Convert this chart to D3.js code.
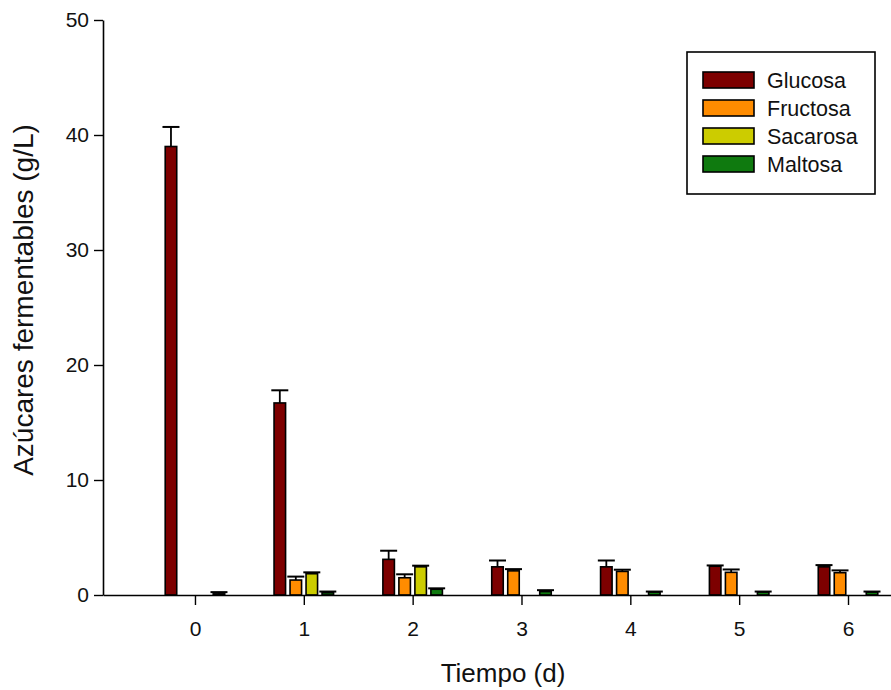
<!DOCTYPE html>
<html>
<head>
<meta charset="utf-8">
<script src="https://cdn.jsdelivr.net/npm/d3@7"></script>
<style>
  html, body { margin: 0; padding: 0; background: #ffffff; }
  svg { display: block; font-family: "Liberation Sans", Arial, sans-serif; }
</style>
</head>
<body>
<svg id="chart" width="891" height="690"></svg>
<script>
const times = [0, 1, 2, 3, 4, 5, 6];
const seriesNames = ["Glucosa", "Fructosa", "Sacarosa", "Maltosa"];
const seriesColors = ["#7d0000", "#ff8c00", "#cccc00", "#0f7a0f"];
const glucosa = [39.0, 16.7, 3.1, 2.45, 2.45, 2.5, 2.45];
const glucosaErr = [1.7, 1.1, 0.75, 0.55, 0.55, 0.07, 0.15];
const fructosa = [0, 1.3, 1.5, 2.1, 2.05, 1.97, 1.94];
const fructosaErr = [0, 0.3, 0.3, 0.15, 0.15, 0.25, 0.2];
const sacarosa = [0, 1.85, 2.45, 0, 0, 0, 0];
const sacarosaErr = [0, 0.12, 0.1, 0, 0, 0, 0];
const maltosa = [0.1, 0.2, 0.5, 0.3, 0.25, 0.25, 0.25];
const maltosaErr = [0.15, 0.1, 0.08, 0.12, 0.05, 0.05, 0.05];
const yTicks = [0, 10, 20, 30, 40, 50];
const xLabel = "Tiempo (d)";
const yLabel = "Azúcares fermentables (g/L)";

const values = [glucosa, fructosa, sacarosa, maltosa];
const errors = [glucosaErr, fructosaErr, sacarosaErr, maltosaErr];

const svg = d3.select("#chart");
const x = d3.scaleLinear().domain([-0.845, 6.395]).range([103, 891]);
const y = d3.scaleLinear().domain([0, 50]).range([595, 20]);
const inner = d3.scaleBand().domain(seriesNames).range([-32, 32]).paddingInner(0.28).paddingOuter(0.14);

const data = [];
seriesNames.forEach((s, si) => {
  times.forEach((t, ti) => {
    data.push({ s, si, t, v: values[si][ti], e: errors[si][ti] });
  });
});
const nonzero = data.filter(d => d.v > 0);

const g = svg.append("g");
const eb = g.selectAll(".err").data(nonzero.filter(d => d.e > 0)).enter().append("g");
eb.append("line")
  .attr("x1", d => x(d.t) + inner(d.s) + inner.bandwidth() / 2)
  .attr("x2", d => x(d.t) + inner(d.s) + inner.bandwidth() / 2)
  .attr("y1", d => y(d.v))
  .attr("y2", d => y(d.v + d.e))
  .attr("stroke", "#000").attr("stroke-width", 1.8);
eb.append("line")
  .attr("x1", d => x(d.t) + inner(d.s) + inner.bandwidth() / 2 - 8.5)
  .attr("x2", d => x(d.t) + inner(d.s) + inner.bandwidth() / 2 + 8.5)
  .attr("y1", d => y(d.v + d.e))
  .attr("y2", d => y(d.v + d.e))
  .attr("stroke", "#000").attr("stroke-width", 2);

g.selectAll(".bar").data(nonzero).enter().append("rect")
  .attr("x", d => x(d.t) + inner(d.s))
  .attr("width", inner.bandwidth())
  .attr("y", d => y(d.v))
  .attr("height", d => y(0) - y(d.v))
  .attr("fill", d => seriesColors[d.si])
  .attr("stroke", "#000").attr("stroke-width", 1.6);

const yAxis = svg.append("g").attr("transform", "translate(103,0)")
  .call(d3.axisLeft(y).tickValues(yTicks).tickSize(9).tickPadding(5).tickSizeOuter(0));
const xAxis = svg.append("g").attr("transform", "translate(0,595)")
  .call(d3.axisBottom(x).tickValues(times).tickFormat(d3.format("d")).tickSize(10).tickPadding(16).tickSizeOuter(0));
[yAxis, xAxis].forEach(a => {
  a.select(".domain").attr("stroke", "#000").attr("stroke-width", 1.6);
  a.selectAll(".tick line").attr("stroke", "#000").attr("stroke-width", 1.4);
  a.selectAll(".tick text").attr("fill", "#111").style("font-size", "21px")
    .style("font-family", "'Liberation Sans', Arial, sans-serif");
});

svg.append("text").attr("x", 503).attr("y", 682).attr("text-anchor", "middle")
  .style("font-size", "26px").attr("fill", "#111").text(xLabel);
svg.append("text").attr("transform", "translate(33,300) rotate(-90)").attr("text-anchor", "middle")
  .style("font-size", "28px").attr("fill", "#111").text(yLabel);

const lg = svg.append("g");
lg.append("rect").attr("x", 687).attr("y", 52).attr("width", 188).attr("height", 142)
  .attr("fill", "#fff").attr("stroke", "#000").attr("stroke-width", 1.6);
const items = lg.selectAll(".item").data(seriesNames).enter().append("g")
  .attr("transform", (d, i) => `translate(0,${80 + i * 28})`);
items.append("rect").attr("x", 703).attr("y", -8).attr("width", 51).attr("height", 16)
  .attr("fill", (d, i) => seriesColors[i]).attr("stroke", "#000").attr("stroke-width", 1.6);
items.append("text").attr("x", 767).attr("y", 0).attr("dy", "0.35em")
  .style("font-size", "21.5px").attr("fill", "#111").text(d => d);
</script>
</body>
</html>
